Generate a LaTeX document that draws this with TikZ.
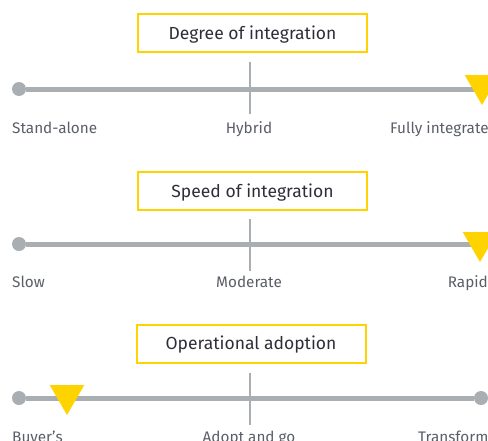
\documentclass[tikz,border=0pt]{standalone}
\usepackage{fontspec}
\setmainfont{Fira Sans}
\usetikzlibrary{shapes.geometric}

\definecolor{eyyellow}{HTML}{FFD300}
\definecolor{bargray}{HTML}{A9AEB3}
\definecolor{titletext}{HTML}{2E2E38}
\definecolor{labeltext}{HTML}{5A5E66}

\tikzset{
  titlebox/.style={draw=eyyellow, line width=2pt, minimum width=229pt, minimum height=38pt,
    text height=12pt, text depth=0pt, text=titletext, font=\fontsize{17.5}{20}\selectfont},
  scalelbl/.style={text=labeltext, font=\fontsize{15.3}{18}\selectfont, inner sep=0pt},
  enddot/.style={circle, fill=bargray, inner sep=0pt, minimum size=14pt},
  marker/.style={regular polygon, regular polygon sides=3, shape border rotate=180,
    fill=eyyellow, inner sep=0pt, minimum size=40pt},
  bar/.style={draw=bargray, line width=5pt},
  midtick/.style={draw=bargray, line width=2pt}
}

\begin{document}
\begin{tikzpicture}[x=1pt, y=-1pt]
    \useasboundingbox (0,0) rectangle (488,440);
    \clip (0,0) rectangle (488,440);

    % degree of integration
    \node(DI) [titlebox] at (252.5,33) {Degree of integration};
    \node(D1) [enddot] at (19,89) {};
    \coordinate(D2) at (500,89);
    \coordinate(DTa) at (250,62);
    \coordinate(DTb) at (250,114);
    \draw[bar] (D1) -- (D2);
    \draw[midtick] (DTa) -- (DTb);
    \node(DM) [marker] at (482,85) {};
    \node(DL) [scalelbl, anchor=base west] at (12,133) {Stand-alone};
    \node(DC) [scalelbl, anchor=base] at (249,133) {Hybrid};
    \node(DR) [scalelbl, anchor=base west] at (390,133) {Fully integrated};

    % speed of integration
    \node(SI) [titlebox] at (252.5,191) {Speed of integration};
    \node(S1) [enddot] at (19,244) {};
    \coordinate(S2) at (500,244);
    \coordinate(STa) at (250,219);
    \coordinate(STb) at (250,271);
    \draw[bar] (S1) -- (S2);
    \draw[midtick] (STa) -- (STb);
    \node(SM) [marker] at (480,242) {};
    \node(SL) [scalelbl, anchor=base west] at (12,287) {Slow};
    \node(SC) [scalelbl, anchor=base] at (249,287) {Moderate};
    \node(SR) [scalelbl, anchor=base east] at (488,287) {Rapid};

    % operational adoption
    \node(OA) [titlebox] at (251,343.5) {Operational adoption};
    \node(O1) [enddot] at (19,398) {};
    \node(O2) [enddot] at (481,398) {};
    \coordinate(OTa) at (250,373);
    \coordinate(OTb) at (250,425);
    \draw[bar] (O1) -- (O2);
    \draw[midtick] (OTa) -- (OTb);
    \node(OM) [marker] at (67,395) {};
    \node(OL) [scalelbl, anchor=base west] at (12,442) {Buyer’s};
    \node(OC) [scalelbl, anchor=base] at (249,442) {Adopt and go};
    \node(OR) [scalelbl, anchor=base west] at (418,442) {Transformational};
\end{tikzpicture}
\end{document}
